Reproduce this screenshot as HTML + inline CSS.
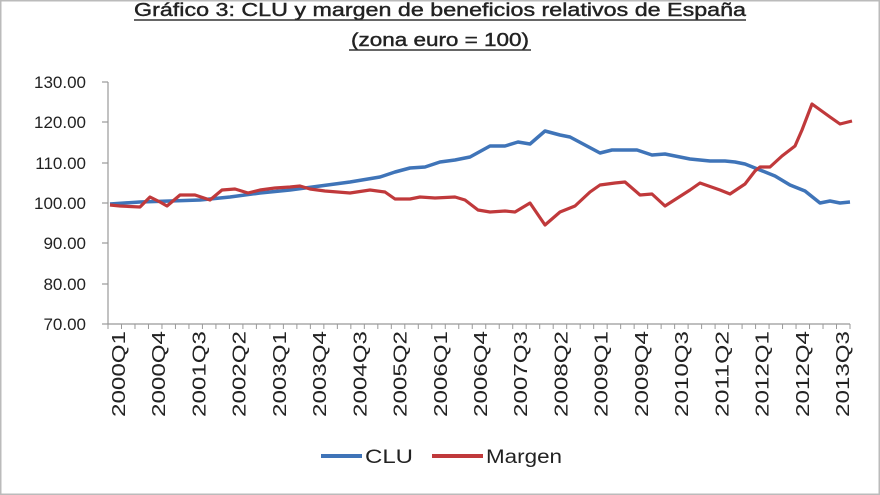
<!DOCTYPE html>
<html><head><meta charset="utf-8"><style>
html,body{margin:0;padding:0;background:#fff;}
svg{display:block;}
text{font-family:"Liberation Sans",sans-serif;fill:#222;}
</style></head><body>
<svg width="880" height="495" viewBox="0 0 880 495" xmlns="http://www.w3.org/2000/svg">
<rect x="0.5" y="0.5" width="879" height="494" fill="#fff" stroke="#bbb" stroke-width="2"/>
<text x="440" y="16" text-anchor="middle" font-size="18" textLength="612" lengthAdjust="spacingAndGlyphs" stroke="#222" stroke-width="0.4">Gráfico 3: CLU y margen de beneficios relativos de España</text>
<line x1="134" y1="20" x2="746" y2="20" stroke="#333" stroke-width="1.5"/>
<text x="440" y="46" text-anchor="middle" font-size="18" textLength="178" lengthAdjust="spacingAndGlyphs" stroke="#222" stroke-width="0.4">(zona euro = 100)</text>
<line x1="349" y1="50" x2="531" y2="50" stroke="#333" stroke-width="1.5"/>
<g stroke="#999" stroke-width="1.2">
<line x1="108" y1="82" x2="108" y2="324"/>
<line x1="108" y1="324" x2="850" y2="324"/>
<line x1="102" y1="82" x2="108" y2="82"/><line x1="102" y1="122" x2="108" y2="122"/><line x1="102" y1="163" x2="108" y2="163"/><line x1="102" y1="203" x2="108" y2="203"/><line x1="102" y1="243" x2="108" y2="243"/><line x1="102" y1="284" x2="108" y2="284"/><line x1="102" y1="324" x2="108" y2="324"/>
</g>
<g id="xt" stroke="#999" stroke-width="1"></g>
<g font-size="17" text-anchor="end">
<text x="86" y="88">130.00</text><text x="86" y="128">120.00</text><text x="86" y="169">110.00</text><text x="86" y="209">100.00</text><text x="86" y="249">90.00</text><text x="86" y="290">80.00</text><text x="86" y="330">70.00</text>
</g>
<g id="xl" font-size="18" text-anchor="end"></g>
<polyline fill="none" stroke="#3f74b8" stroke-width="3.5" stroke-linejoin="round" points="110,204 140,202 170,201 200,200 230,197 260,193 290,190 320,186 350,182 380,177 395,172 410,168 425,167 440,162 455,160 470,157 490,146 505,146 518,142 530,144 545,131 560,135 570,137 585,145 600,153 612,150 637,150 652,155 665,154 690,159 710,161 725,161 735,162 745,164 760,170 775,176 790,185 800,189 805,191 820,203 830,201 840,203 850,202"/>
<polyline fill="none" stroke="#c0393b" stroke-width="3.2" stroke-linejoin="round" points="110,205 120,206 140,207 150,197 160,202 167,206 180,195 195,195 210,200 222,190 235,189 248,193 260,190 275,188 290,187 300,186 310,189 325,191 350,193 370,190 385,192 395,199 410,199 420,197 435,198 455,197 465,200 478,210 490,212 505,211 515,212 530,203 545,225 560,212 575,206 590,192 600,185 615,183 625,182 640,195 652,194 665,206 690,190 700,183 720,190 730,194 745,184 755,171 760,167 770,167 782,156 795,146 802,130 812,104 830,117 840,124 852,121"/>
<line x1="321" y1="456" x2="362" y2="456" stroke="#3f74b8" stroke-width="4"/>
<text x="365" y="463" font-size="19" textLength="48" lengthAdjust="spacingAndGlyphs">CLU</text>
<line x1="432" y1="456" x2="483" y2="456" stroke="#c0393b" stroke-width="4"/>
<text x="486" y="463" font-size="19" textLength="76" lengthAdjust="spacingAndGlyphs">Margen</text>
</svg>
<script>
var ns="http://www.w3.org/2000/svg",xt=document.getElementById('xt'),xl=document.getElementById('xl');
var step=(850-108)/55;
for(var i=0;i<=55;i++){var x=108+step*i;var l=document.createElementNS(ns,'line');l.setAttribute('x1',x);l.setAttribute('x2',x);l.setAttribute('y1',324);l.setAttribute('y2',329);xt.appendChild(l);}
for(var k=0;k<19;k++){var i=k*3;var y=2000+Math.floor(i/4),q=i%4+1;var cx=118+k*(842-118)/18+7;
var t=document.createElementNS(ns,'text');t.setAttribute('transform','translate('+cx+',331) rotate(-90)');t.setAttribute('x',0);t.setAttribute('y',0);t.setAttribute('textLength','86');t.setAttribute('lengthAdjust','spacingAndGlyphs');t.textContent=y+'Q'+q;xl.appendChild(t);}
</script>
</body></html>
